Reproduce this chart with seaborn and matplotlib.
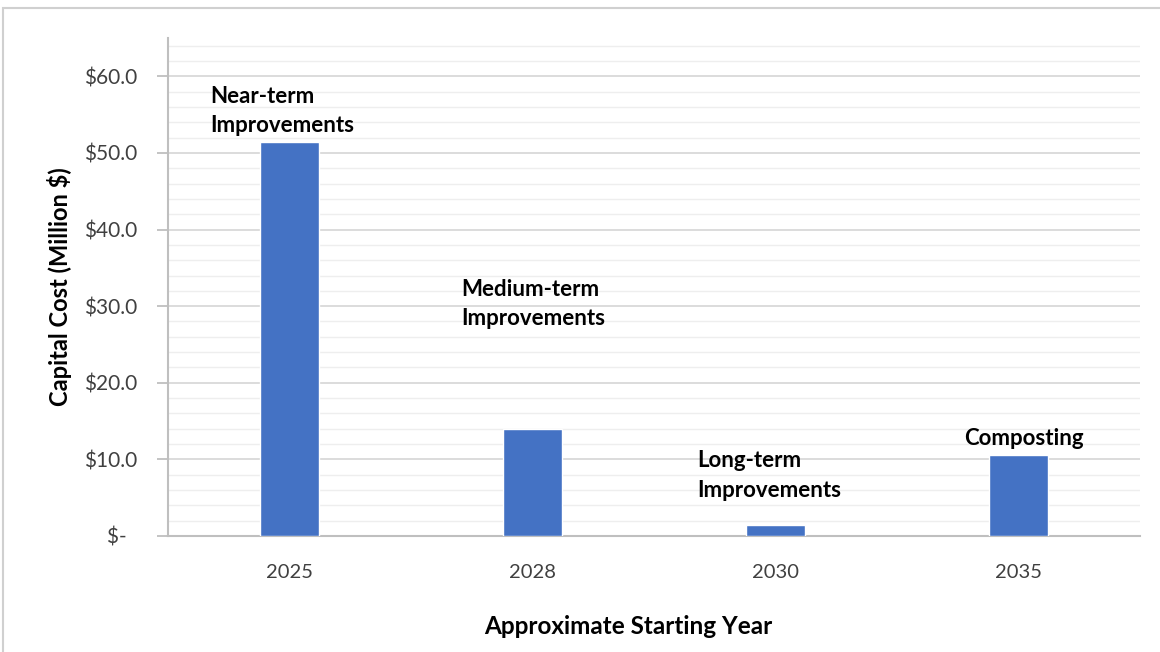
import matplotlib
matplotlib.use("Agg")
import matplotlib.pyplot as plt
import seaborn as sns
import pandas as pd
import numpy as np
from matplotlib.patches import Rectangle
from matplotlib.ticker import MultipleLocator, FixedLocator

years = ["2025", "2028", "2030", "2035"]
costs = [51.4, 14.0, 1.4, 10.6]
phase_labels = ["Near-term\nImprovements", "Medium-term\nImprovements",
                "Long-term\nImprovements", "Composting"]
yticks = [0, 10, 20, 30, 40, 50, 60]
ytick_labels = ["$-  ", "$10.0", "$20.0", "$30.0", "$40.0", "$50.0", "$60.0"]

sns.set_theme(style="white")
plt.rcParams['font.family'] = ['Lato', 'DejaVu Sans']

df = pd.DataFrame({"year": years, "cost": costs})

fig = plt.figure(figsize=(11.6, 6.52), dpi=100)
ax = fig.add_axes([168/1160, 1 - 536/652, (1140-168)/1160, (536-38)/652])

# outer frame
fig.patches.append(Rectangle((3/1160, -0.05), 1.2, 1 - 8/652 + 0.05, transform=fig.transFigure,
                             fill=False, edgecolor="#d0d0d0", linewidth=1.5, zorder=0))

sns.barplot(data=df, x="year", y="cost", color="#4472C4", width=0.245,
            saturation=1, ax=ax, zorder=3)

ax.set_ylim(0, 65)
ax.set_xlim(-0.5, 3.5)
ax.yaxis.set_major_locator(FixedLocator(yticks))
ax.set_yticklabels(ytick_labels)
ax.yaxis.set_minor_locator(MultipleLocator(2))
ax.grid(which="major", axis="y", color="#d9d9d9", linewidth=1.3, zorder=0)
ax.grid(which="minor", axis="y", color="#eeeeee", linewidth=1.0, zorder=0)
ax.set_axisbelow(True)

for s in ["top", "right"]:
    ax.spines[s].set_visible(False)
for s in ["left", "bottom"]:
    ax.spines[s].set_color("#bfbfbf")
    ax.spines[s].set_linewidth(1.5)

ax.tick_params(axis="y", which="major", left=True, length=8, color="#bfbfbf", width=1.3,
               labelsize=15, labelcolor="#404040", pad=14)
ax.tick_params(axis="y", which="minor", left=False)
ax.tick_params(axis="x", bottom=False, labelsize=14.5, labelcolor="#404040", pad=14)

ax.set_xlabel("Approximate Starting Year", fontsize=17.5, fontweight="bold", color="#000000")
ax.set_ylabel("Capital Cost (Million $)", fontsize=17, fontweight="bold", color="#000000")
ax.xaxis.set_label_coords((628-168)/972, (536-626)/498)
ax.xaxis.label.set_verticalalignment("center")
ax.yaxis.set_label_coords((60-168)/972, 0.5)
ax.yaxis.label.set_verticalalignment("center")
ax.yaxis.label.set_horizontalalignment("center")

# phase labels positioned relative to categories
label_dx = [-0.327, 0.706 - 1, 1.68 - 2, 2.776 - 3]
label_y = [58.8, 33.6, 11.2, 14.1]
for i, (txt, dx, yy) in enumerate(zip(phase_labels, label_dx, label_y)):
    ax.text(i + dx, yy, txt, ha="left", va="top", fontsize=16, fontweight="bold",
            color="#000000", linespacing=1.5, zorder=4)

fig.savefig("out.png", dpi=100)
